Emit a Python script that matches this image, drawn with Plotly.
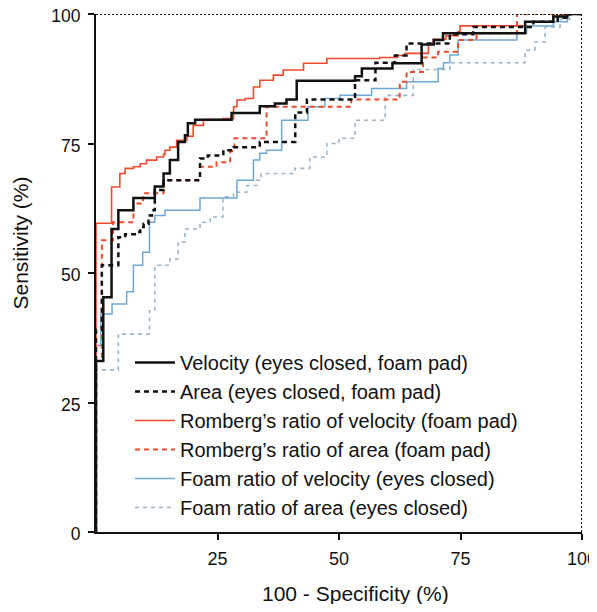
import plotly.graph_objects as go

# ---- data (100 - specificity %, sensitivity %) ----
names = [
    "Velocity (eyes closed, foam pad)",
    "Area (eyes closed, foam pad)",
    "Romberg\u2019s ratio of velocity (foam pad)",
    "Romberg\u2019s ratio of area (foam pad)",
    "Foam ratio of velocity (eyes closed)",
    "Foam ratio of area (eyes closed)",
]

vel_x = [0, 0, 1.5, 3.2, 4.6, 7.7, 12.1, 13.9, 15.2, 16.9, 18.3, 18.9, 20.4, 27.9, 33.7, 36.8, 39.2, 41.3,
         53.3, 54.7, 61.0, 67.0, 69.5, 71.4, 88.3, 94.1, 97.0, 100]
vel_y = [0, 33.0, 45.3, 58.5, 62.1, 64.5, 66.7, 69.2, 71.8, 75.3, 76.6, 78.9, 79.6, 80.9, 82.2, 82.7, 83.5, 87.1,
         88.0, 89.5, 90.5, 94.1, 95.0, 96.3, 98.5, 99.5, 100, 100]

area_x = [0, 0, 1.2, 4.6, 6.0, 8.0, 9.1, 9.8, 10.8, 11.5, 12.1, 13.9, 21.4, 23.0, 26.2, 28.3, 33.7, 41.0, 43.4,
          53.3, 57.5, 61.5, 63.9, 72.8, 77.6, 90.0, 95.0, 97.5, 100]
area_y = [0, 39.0, 51.5, 56.9, 57.5, 57.9, 58.9, 59.5, 61.1, 62.1, 66.0, 67.9, 72.1, 72.7, 73.7, 74.3, 75.3, 81.0, 83.5,
          87.2, 90.6, 92.0, 94.3, 96.1, 97.5, 98.5, 99.3, 100, 100]

rvel_x = [0, 0, 3.2, 4.9, 6.0, 7.7, 9.1, 10.4, 12.5, 13.9, 14.2, 15.2, 16.6, 18.7, 20.0, 22.1, 26.2, 28.3, 29.0,
          30.7, 32.4, 33.7, 36.5, 38.5, 42.7, 47.5, 58.4, 62.0, 63.6, 68.4, 69.4, 72.0, 74.5, 74.9, 88.3, 94.1, 96.5, 100]
rvel_y = [0, 59.6, 66.6, 69.2, 70.2, 70.5, 71.1, 71.8, 72.4, 72.9, 73.7, 74.3, 75.6, 76.4, 78.5, 79.6, 79.8, 82.1, 83.4,
          83.7, 85.9, 87.2, 88.2, 89.2, 90.5, 91.4, 91.6, 92.0, 92.4, 94.3, 95.1, 95.8, 96.6, 97.7, 98.5, 99.6, 100, 100]

rarea_x = [0, 0, 1.2, 3.5, 7.7, 9.7, 13.9, 21.4, 24.8, 27.6, 28.5, 35.1, 52.5, 62.5, 63.9, 67.3, 70.4, 74.5,
           78.3, 86.6, 100]
rarea_y = [0, 33.0, 56.3, 59.8, 63.4, 65.4, 67.9, 70.5, 71.4, 73.5, 76.0, 82.1, 83.5, 86.9, 88.8, 91.6, 92.7, 95.0,
           96.3, 100, 100]

fvel_x = [0, 0, 1.0, 3.3, 6.3, 7.7, 9.6, 11.0, 12.1, 14.2, 21.4, 29.0, 32.4, 33.7, 35.1, 38.2, 43.6, 47.1, 50.2,
          56.7, 63.9, 70.4, 71.5, 72.8, 74.5, 86.6, 88.6, 94.1, 97.0, 100]
fvel_y = [0, 36.0, 42.1, 44.0, 46.4, 51.5, 54.0, 59.8, 61.1, 62.1, 64.5, 67.9, 71.8, 73.1, 73.7, 79.5, 82.1, 83.7, 84.3,
          85.6, 86.9, 89.5, 90.6, 92.1, 95.0, 96.3, 97.7, 98.5, 100, 100]

farea_x = [0, 0, 4.6, 11.0, 12.1, 15.2, 16.9, 18.3, 21.4, 23.5, 26.1, 28.3, 31.0, 33.1, 34.0, 40.9, 44.0, 47.5,
           50.0, 53.3, 59.5, 65.3, 72.8, 88.3, 90.3, 92.4, 95.5, 97.5, 100]
farea_y = [0, 31.3, 38.2, 42.7, 51.5, 52.7, 56.0, 58.5, 59.8, 60.8, 64.7, 65.6, 66.9, 67.9, 69.2, 70.2, 72.4, 75.0,
           76.0, 79.5, 84.3, 89.3, 90.6, 93.0, 94.6, 97.5, 99.0, 100, 100]

x_ticks = [25, 50, 75, 100]
y_ticks = [0, 25, 50, 75, 100]

series = [
    (vel_x, vel_y, "#111111", 2.5, "solid"),
    (area_x, area_y, "#111111", 2.5, "5px,4px"),
    (rvel_x, rvel_y, "#ef4a2c", 1.6, "solid"),
    (rarea_x, rarea_y, "#ef4a2c", 2.0, "5px,4px"),
    (fvel_x, fvel_y, "#6fa8d6", 1.5, "solid"),
    (farea_x, farea_y, "#9db3c6", 1.6, "4px,4px"),
]

FONT = "Liberation Sans, Arial, Helvetica, sans-serif"

fig = go.Figure()
draw_order = [5, 4, 3, 2, 1, 0]
for i in draw_order:
    xs, ys, col, w, dash = series[i]
    fig.add_trace(go.Scatter(
        x=xs, y=ys, mode="lines", name=names[i],
        line=dict(color=col, width=w, dash=dash, shape="hv"),
        legendgroup=f"g{i}", legendrank=i + 1,
    ))

fig.update_layout(
    width=589, height=596,
    margin=dict(l=88, r=15, t=6, b=72),
    paper_bgcolor="white", plot_bgcolor="white",
    font=dict(family=FONT, color="#111111"),
    showlegend=True,
    legend=dict(
        x=(130 - 96) / 486, y=(532 - 343) / 518, xanchor="left", yanchor="top",
        bgcolor="rgba(0,0,0,0)", font=dict(size=20, family=FONT, color="#111111"),
        tracegroupgap=0, itemwidth=40, traceorder="grouped",
    ),
    xaxis=dict(
        range=[0, 100], tickvals=x_ticks, ticktext=[str(v) for v in x_ticks],
        showgrid=False, zeroline=False, showline=True, linecolor="#111111", linewidth=2,
        ticks="outside", ticklen=6, tickwidth=2, tickcolor="#111111", automargin=False,
        tickfont=dict(size=18, family=FONT), ticklabelstandoff=3, ticklabeloverflow="allow",
    ),
    yaxis=dict(
        range=[0, 100], tickvals=y_ticks, ticktext=[str(v) for v in y_ticks],
        showgrid=False, zeroline=False, showline=True, linecolor="#111111", linewidth=2,
        ticks="outside", ticklen=6, tickwidth=2, tickcolor="#111111", automargin=False,
        tickfont=dict(size=17.5, family=FONT), ticklabelstandoff=4, ticklabelshift=2,
        ticklabeloverflow="allow",
    ),
    shapes=[
        dict(type="line", xref="x", yref="y", x0=0, y0=100, x1=100, y1=100,
             line=dict(color="#111111", width=2, dash="2px,2px")),
        dict(type="line", xref="x", yref="y", x0=100, y0=0, x1=100, y1=100,
             line=dict(color="#111111", width=2, dash="2px,2px")),
    ],
    annotations=[
        dict(text="Sensitivity (%)", xref="paper", yref="paper",
             x=(20 - 96) / 486, y=(532 - 243.5) / 518, xanchor="center", yanchor="middle",
             textangle=-90, showarrow=False, font=dict(size=21, family=FONT, color="#111111")),
        dict(text="100 - Specificity (%)", xref="paper", yref="paper",
             x=(355 - 96) / 486, y=(532 - 593) / 518, xanchor="center", yanchor="middle",
             showarrow=False, font=dict(size=21, family=FONT, color="#111111")),
    ],
)

fig.write_html("out.html")
